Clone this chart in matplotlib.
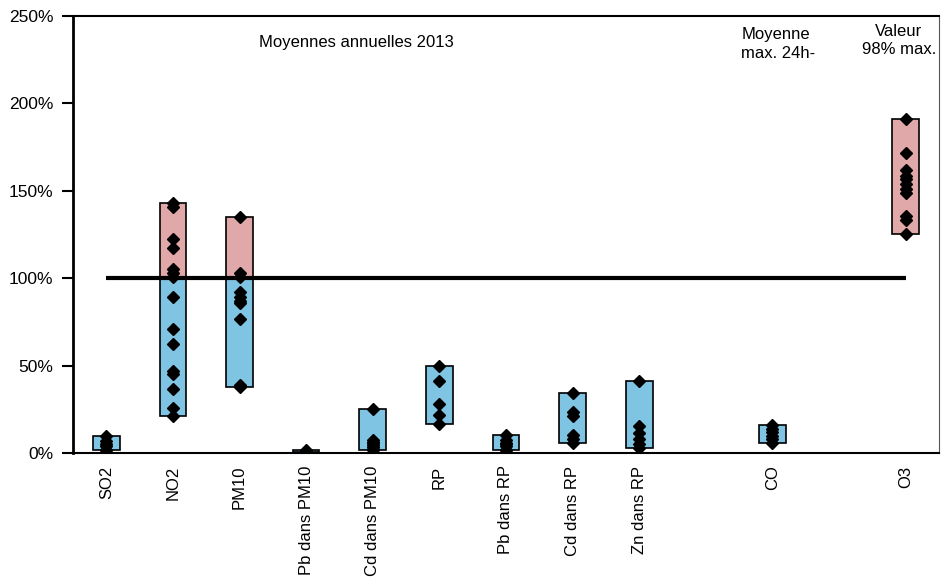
import numpy as np
import matplotlib
matplotlib.use('Agg')
import matplotlib.pyplot as plt

plt.rcParams['font.family'] = ['Liberation Sans', 'DejaVu Sans']

# category labels and their slot on the x axis
labels = ['SO2', 'NO2', 'PM10', 'Pb dans PM10', 'Cd dans PM10', 'RP',
          'Pb dans RP', 'Cd dans RP', 'Zn dans RP', 'CO', 'O3']
slots = [0, 1, 2, 3, 4, 5, 6, 7, 8, 10, 12]

# station values in % of the limit value
so2 = [1.5, 2, 4, 5, 7, 9.5]
no2 = [21, 25.5, 36.5, 45, 47, 62.5, 71, 89, 100.5, 103, 105, 117, 122.5, 140.5, 143]
pm10 = [38, 39, 76.5, 86, 87, 89.5, 92, 100.5, 103, 135]
pb_pm10 = [0.3, 0.8, 1.8]
cd_pm10 = [1.7, 2.5, 3.5, 4.5, 5.5, 6.5, 7.5, 25]
rp = [16.6, 21.7, 27.9, 41.4, 49.8]
pb_rp = [1.5, 2, 4, 5, 6, 7.5, 10.5]
cd_rp = [5.5, 8, 10.5, 21.4, 23.6, 34.5]
zn_rp = [2.7, 5, 8, 11.2, 15.5, 41.2]
co = [6, 8, 10, 12, 14, 16]
o3 = [125.5, 133.5, 135.5, 148.5, 151, 154, 156.5, 158.5, 162, 171.5, 191]

series = [so2, no2, pm10, pb_pm10, cd_pm10, rp, pb_rp, cd_rp, zn_rp, co, o3]

limit = 100
blue = '#80c4e4'
red = '#e0a8a8'

fig = plt.figure(figsize=(9.41, 5.79), dpi=100)
ax = fig.add_axes([73 / 941, 1 - 453 / 579, 866 / 941, 437 / 579])

w = 0.4
for x, vals in zip(slots, series):
    lo, hi = min(vals), max(vals)
    if lo < limit:
        ax.bar(x, min(hi, limit) - lo, bottom=lo, width=w, color=blue,
               edgecolor='black', linewidth=1.2, zorder=2)
    if hi > limit:
        b = max(lo, limit)
        ax.bar(x, hi - b, bottom=b, width=w, color=red,
               edgecolor='black', linewidth=1.2, zorder=2)
    ax.plot([x] * len(vals), vals, 'D', color='black', markersize=6, zorder=4)

ax.plot([slots[0], slots[-1]], [limit, limit], color='black', linewidth=3, zorder=3,
        solid_capstyle='butt')

ax.set_xlim(-0.5, 12.5)
ax.set_ylim(0, 250)
ax.set_yticks(np.arange(0, 251, 50))
ax.set_yticklabels(['%d%%' % v for v in range(0, 251, 50)], fontsize=12.5)
ax.set_xticks(slots)
ax.set_xticklabels(labels, rotation=90, fontsize=12)
ax.tick_params(axis='x', length=0, pad=9)
ax.tick_params(axis='y', length=8, width=1.5, direction='out', pad=6)

ax.spines['left'].set_linewidth(2)
ax.spines['bottom'].set_linewidth(1.5)
ax.spines['top'].set_linewidth(1.5)
ax.spines['right'].set_linewidth(0.8)
ax.spines['right'].set_color('#555555')

ax.text(3.75, 235, 'Moyennes annuelles 2013', fontsize=12, ha='center', va='center')
ax.text(9.53, 234, 'Moyenne\nmax. 24h-', fontsize=12, ha='left', va='center',
        linespacing=1.3)
ax.text(11.9, 236, 'Valeur\n98% max.', fontsize=12, ha='center', va='center',
        linespacing=1.3)

fig.savefig('out.png', dpi=100)
